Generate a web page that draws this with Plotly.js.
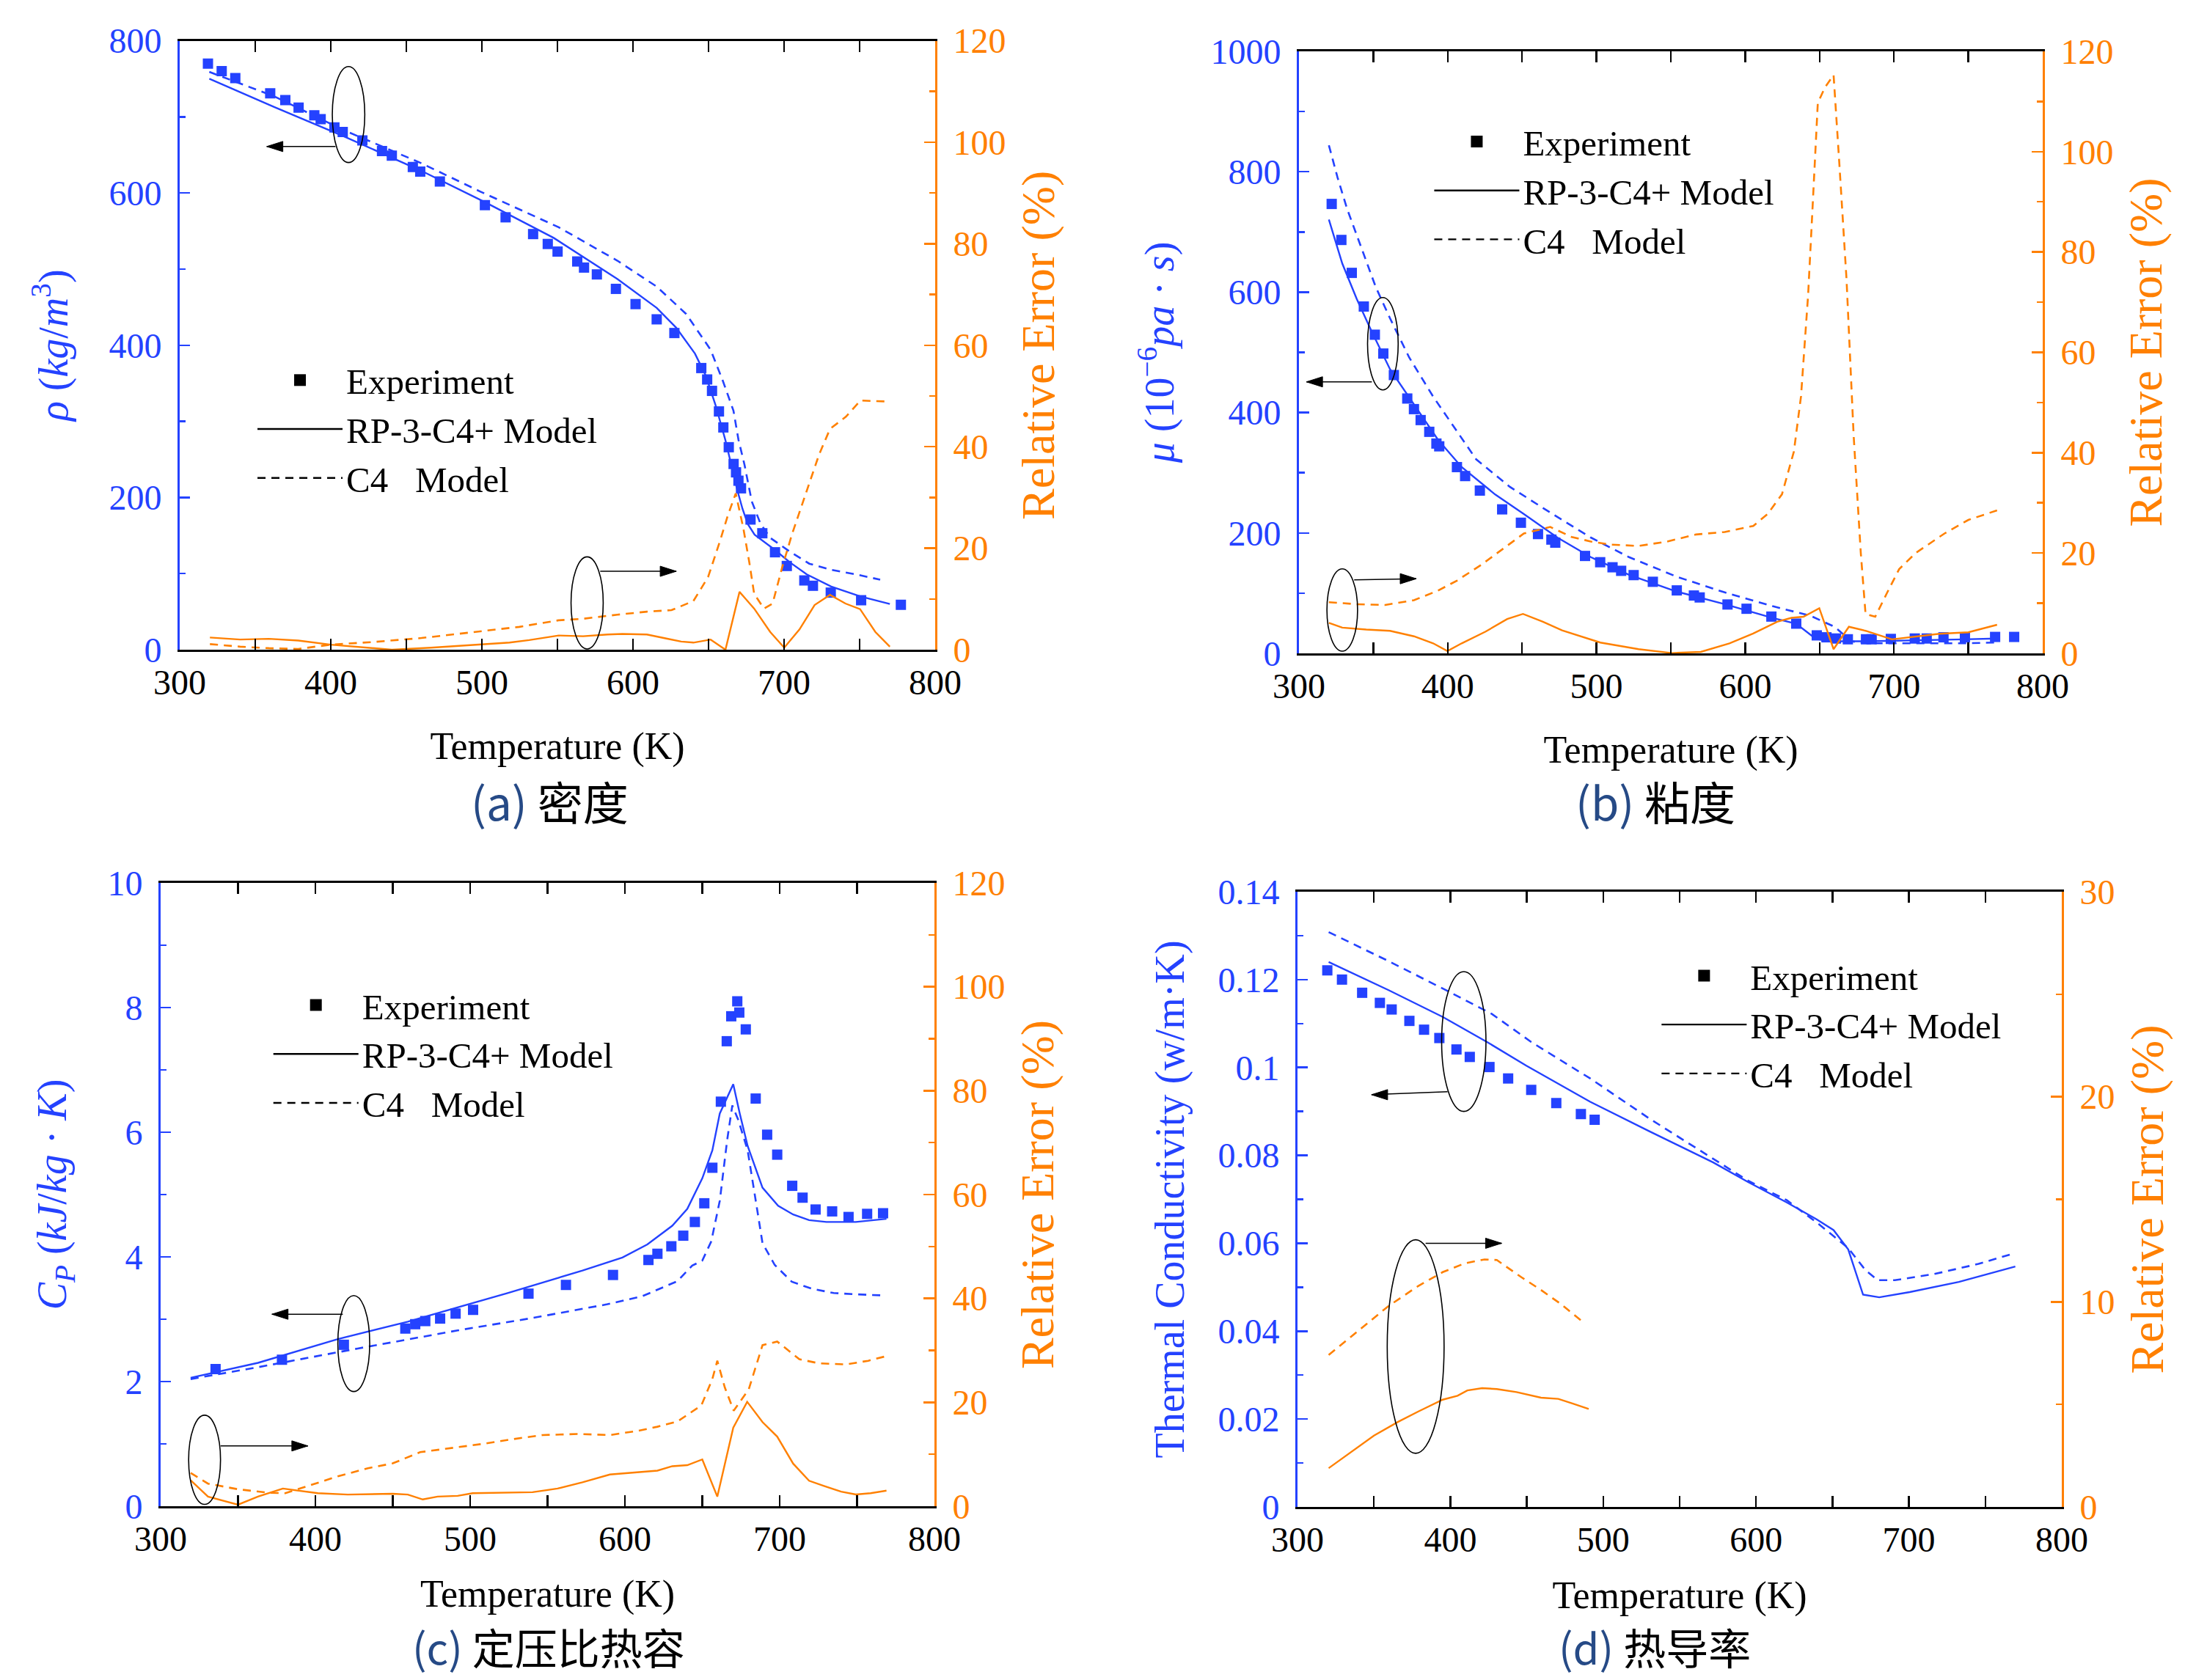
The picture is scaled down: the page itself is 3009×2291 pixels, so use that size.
<!DOCTYPE html>
<html>
<head>
<meta charset="utf-8">
<script src="https://cdn.plot.ly/plotly-3.0.1.min.js"></script>
<style>html,body{margin:0;padding:0;background:#fff;}#chart{width:3009px;height:2291px;}</style>
</head>
<body>
<div id="chart"></div>
<script>
// ---------- (a) density ----------
const Ta_exp = [318.7, 327.8, 336.8, 359.9, 369.9, 378.7, 389.1, 393.3, 402.4, 407.9, 420.9, 433.9, 440.4, 454.3, 459.2, 472.2, 502.0, 515.7, 533.9, 543.6, 550.1, 563.1, 567.6, 576.1, 588.7, 601.7, 615.7, 627.4, 645.2, 649.1, 652.3, 656.9, 659.8, 663.4, 666.6, 668.2, 669.8, 671.5, 677.8, 685.6, 694.0, 701.8, 713.4, 719.1, 730.9, 751.0, 777.3];
const rho_exp = [770, 760, 751, 731, 722, 712, 702, 697, 686, 680, 669, 655, 649, 634, 628, 615, 584, 568, 546, 533, 523, 510, 502, 493, 474, 454, 434, 416, 370, 355, 340, 313, 292, 266, 244, 233, 222, 212, 171, 153, 128, 110, 91, 84, 75, 65, 59];
const Ta_rp = [319.6, 362.5, 408, 460, 502, 547.5, 589.7, 615.7, 628.6, 641, 648.2, 654.7, 661.2, 665.5, 669, 672.5, 676, 680.5, 694, 703.7, 715, 731.2, 750.6, 770];
const rho_rp = [750, 713, 675, 629, 588, 541, 487, 449, 423, 389, 360, 321, 275, 240, 210, 185, 165, 151, 131, 115, 99, 83, 70, 60];
const Ta_c4 = [319.6, 362.5, 408, 460, 498.8, 550.8, 589.7, 615.7, 635.2, 651.4, 659.5, 666.5, 669.8, 673.8, 678.6, 684.3, 690.8, 703.7, 716.7, 731.2, 747.4, 763.6];
const rho_c4 = [759, 727, 683, 639, 602, 555, 511, 477, 441, 394, 353, 314, 276, 243, 195, 166, 147, 129, 113, 105, 99, 92];
const Ta_err_rp = [320, 340, 359, 378.5, 400, 427.4, 440.4, 466.3, 492.3, 518.3, 531.3, 550.8, 567, 583.2, 593, 609.2, 622.1, 631.9, 640, 651.4, 661.2, 670.5, 680.2, 690.8, 700.1, 710.2, 720.2, 730.4, 740.6, 750.3, 760.4, 770];
const err_a_rp = [2.4, 2.0, 2.15, 1.8, 1.0, 0.25, 0, 0.4, 0.9, 1.4, 1.9, 2.8, 2.65, 3.0, 3.1, 3.0, 2.2, 1.6, 1.4, 2.0, 0, 11.4, 8.1, 3.5, 0.4, 4.0, 8.8, 10.8, 9.1, 8.0, 3.5, 0.6];
const Ta_err_c4 = [320, 340, 359, 378.5, 400, 427.4, 460, 492.3, 524.8, 550.8, 567, 589.7, 609.2, 625.5, 640, 649.7, 657.9, 662.7, 668, 673, 677, 680.2, 686.7, 692.4, 698.8, 705.3, 715, 723.1, 730.4, 740.9, 750.6, 768.4];
const err_a_c4 = [1.1, 0.6, 0.3, 0.15, 1.0, 1.5, 2.3, 3.35, 4.5, 5.8, 6.1, 6.9, 7.5, 7.8, 9.6, 14.3, 21.7, 26.4, 30.8, 24, 17.2, 11, 8.1, 9.1, 16.3, 22.8, 31.2, 38.4, 43.5, 45.9, 49.1, 48.9];

// ---------- (b) viscosity ----------
const Tb_exp = [322.0, 328.5, 335.5, 343.6, 351.0, 356.7, 363.8, 372.8, 377.3, 381.8, 387.6, 392.4, 394.3, 406.2, 411.7, 421.6, 436.6, 449.2, 460.7, 469.7, 472.3, 492.3, 502.5, 510.8, 516.6, 525.0, 537.9, 554.0, 565.5, 569.4, 588.1, 600.9, 617.6, 634.3, 648.1, 654.6, 661.0, 669.0, 681.2, 685.0, 697.9, 714.0, 722.0, 733.3, 747.7, 768.0, 780.8];
const mu_exp = [746.5, 686.7, 632, 576.1, 529.3, 498, 462.3, 423.3, 405.7, 387.5, 368, 348.5, 343.9, 309.4, 294.5, 270.4, 239.2, 217, 198.2, 189, 183.9, 161.8, 151.4, 143, 137.1, 130, 118.9, 104.6, 96.1, 92.9, 81.2, 74.1, 61.1, 49.4, 29.9, 26.7, 24.7, 23.4, 23.4, 23.4, 24, 24.7, 24.7, 26.7, 26.7, 27.3, 27.3];
const Tb_rp = [320.1, 329.1, 338.8, 348.4, 361.2, 377.3, 393.4, 409.4, 431.9, 451.2, 473.7, 496.2, 521.9, 554, 586.2, 618.3, 634.3, 647.2, 656.8, 682.5, 714.6, 746.8, 768.6];
const mu_rp = [720.5, 647.6, 589, 537, 472, 413.5, 355, 309.4, 263.9, 231.4, 192.4, 159.8, 130.6, 102.6, 81.8, 59, 49.3, 24.6, 20, 20, 21.3, 23.3, 24.6];
const Tb_c4 = [320.1, 325.9, 332.3, 342, 351.6, 361.2, 374.1, 390.2, 406.2, 419.1, 441.6, 470.5, 496.2, 521.9, 554, 586.2, 618.3, 644, 660.1, 671.3, 682.5, 714.6, 746.8, 768.6];
const mu_c4 = [844, 790.7, 738.7, 673.6, 608.6, 556.6, 491.5, 426.5, 368, 322.4, 276.9, 231.4, 192.4, 159.8, 127.3, 101.3, 78.5, 62.3, 44.1, 20, 16.7, 16.7, 16.7, 18];
const Tb_err_rp = [320.1, 329.1, 345.2, 361.2, 377.3, 390.2, 399.8, 409.4, 425.5, 440, 450.6, 464, 476.9, 502.6, 528.3, 550.8, 570.1, 589.4, 605.4, 621.5, 631.1, 639.2, 649.8, 659.4, 669.7, 680.9, 698.6, 714.6, 730.7, 750, 769.3];
const err_b_rp = [6.07, 5.13, 4.74, 4.5, 3.4, 2.0, 0.45, 2.0, 4.35, 6.85, 7.86, 6.3, 4.6, 2.16, 0.84, 0.06, 0.3, 2.0, 3.96, 6.3, 7.08, 7.3, 9.0, 0.84, 5.3, 4.5, 2.8, 3.3, 3.9, 4.2, 5.7];
const Tb_err_c4 = [320.1, 338.8, 358, 377.3, 393.4, 406.2, 422.3, 438.4, 451.2, 468.9, 483.3, 496.2, 509, 528.3, 547.6, 566.9, 586.2, 605.4, 615.1, 624.7, 632.7, 637.5, 642.3, 645.5, 648.8, 653.6, 659.4, 663.2, 668.1, 672.9, 677.7, 680.9, 687.4, 695.4, 703.5, 714.6, 734, 750, 769.3];
const err_b_c4 = [10.2, 9.8, 9.65, 10.6, 12.5, 14.5, 17.6, 21.1, 23.9, 25.2, 23.2, 22.3, 21.7, 21.4, 22.3, 23.7, 24.2, 25.4, 27.8, 31.7, 40.2, 51.2, 71.5, 90.2, 109.7, 112.8, 115.3, 98, 74.6, 43.4, 20, 7.86, 7.3, 12.1, 16.8, 20, 23.9, 26.6, 28.5];

// ---------- (c) specific heat ----------
const Tc_exp = [335.5, 378.4, 418.4, 458.1, 464.5, 471.0, 480.6, 490.6, 501.9, 537.7, 561.9, 592.3, 615.2, 621.0, 630.0, 637.7, 645.2, 651.3, 656.5, 662.0, 665.8, 668.7, 672.6, 673.9, 678.1, 684.5, 691.9, 698.4, 708.1, 714.8, 723.2, 733.9, 744.5, 756.5, 766.8];
const cp_exp = [2.20, 2.35, 2.59, 2.85, 2.92, 2.97, 3.01, 3.09, 3.15, 3.41, 3.55, 3.71, 3.95, 4.05, 4.17, 4.34, 4.56, 4.86, 5.43, 6.49, 7.46, 7.86, 8.10, 7.92, 7.65, 6.54, 5.96, 5.64, 5.14, 4.95, 4.76, 4.73, 4.64, 4.69, 4.70];
const Tc_rp = [319.4, 362.9, 414.5, 459.7, 524.2, 572.6, 598.4, 614.5, 630.6, 640.3, 650, 656.5, 661.3, 670, 674.2, 679.3, 688.9, 699, 708.7, 719, 730.2, 749.2, 769];
const cp_rp = [2.06, 2.30, 2.68, 2.96, 3.42, 3.78, 3.99, 4.20, 4.50, 4.77, 5.26, 5.71, 6.30, 6.77, 6.30, 5.78, 5.11, 4.82, 4.68, 4.59, 4.56, 4.56, 4.61];
const Tc_c4 = [319.4, 362.9, 427.4, 491.9, 540.3, 588.7, 611.3, 633.9, 643.5, 650, 655.8, 661.3, 666.1, 669.4, 673.2, 679.3, 685.7, 688.9, 696.8, 707.9, 720.6, 734.9, 749.2, 768.3];
const cp_c4 = [2.04, 2.23, 2.53, 2.82, 3.02, 3.24, 3.37, 3.61, 3.86, 3.94, 4.25, 4.90, 5.88, 6.43, 6.20, 5.71, 4.72, 4.22, 3.87, 3.60, 3.49, 3.42, 3.40, 3.38];
const Tc_err_rp = [319.4, 330.6, 350, 362.9, 379, 401.6, 420.9, 450, 459.7, 469.4, 479, 491.9, 501.6, 524.2, 540.3, 556.5, 572.6, 590.3, 608.1, 621, 630.6, 640.3, 650, 659.7, 670, 679, 688.9, 698.4, 708.7, 719, 728.6, 739.7, 749.2, 758.8, 769];
const err_c_rp = [5.0, 1.85, 0.3, 1.85, 3.4, 2.5, 2.24, 2.4, 2.24, 1.3, 1.85, 2.0, 2.5, 2.63, 2.7, 3.4, 4.6, 6.1, 6.5, 6.85, 7.7, 7.9, 9.0, 1.85, 15.1, 20.1, 16.2, 13.4, 8.2, 4.9, 3.9, 2.8, 2.26, 2.5, 3.0];
const Tc_err_c4 = [319.4, 330.6, 350, 369.4, 380.6, 391.9, 414.5, 433.9, 450, 467.7, 488.7, 508.1, 527.4, 546.8, 569.4, 590.3, 608.1, 621, 633.9, 649.4, 656.5, 659.7, 664.5, 670.3, 680, 688.9, 698.4, 712.7, 725.4, 742.9, 757.2, 769];
const err_c_c4 = [6.4, 4.35, 3.26, 2.6, 2.5, 3.6, 5.75, 7.3, 8.25, 10.4, 11.2, 12.0, 12.9, 13.7, 13.9, 13.7, 14.5, 15.3, 16.3, 19.4, 24.5, 28.0, 22.9, 18.4, 22.5, 31.0, 31.7, 28.3, 27.5, 27.3, 28.0, 28.9];

// ---------- (d) thermal conductivity ----------
const Td_exp = [319.5, 329.1, 342.3, 353.9, 361.6, 373.2, 382.8, 392.8, 404.0, 412.7, 425.6, 437.8, 452.9, 469.3, 485.4, 494.4];
const k_exp = [0.1221, 0.1200, 0.1170, 0.1147, 0.1132, 0.1106, 0.1086, 0.1067, 0.1041, 0.1024, 0.1001, 0.0975, 0.0949, 0.0919, 0.0894, 0.0881];
const Td_rp = [320.4, 359.6, 395, 424, 449.7, 491.5, 530.1, 571.9, 594.4, 620.1, 639.4, 650.7, 660.3, 670, 680.6, 700.5, 732.7, 769.6];
const k_rp = [0.1240, 0.1176, 0.1115, 0.1058, 0.1004, 0.0922, 0.0855, 0.0784, 0.0740, 0.0693, 0.0655, 0.0630, 0.0586, 0.0483, 0.0477, 0.0489, 0.0512, 0.0547];
const Td_c4 = [320.4, 359.6, 398.2, 427.1, 452.9, 491.5, 530.1, 571.9, 594.4, 620.1, 639.4, 649, 660.3, 671.5, 679.6, 690.8, 716.6, 745.5, 769.6];
const k_c4 = [0.1308, 0.1242, 0.1174, 0.1122, 0.1058, 0.0975, 0.0884, 0.0793, 0.0743, 0.0698, 0.0648, 0.0621, 0.0589, 0.0539, 0.0516, 0.0516, 0.0530, 0.0553, 0.0578];
const Td_err_rp = [320.4, 337.1, 350, 366.1, 378.9, 395, 404.7, 411.1, 420.8, 430.4, 443.3, 459.3, 470.6, 480.2, 490.5];
const err_d_rp = [1.89, 2.8, 3.48, 4.16, 4.65, 5.23, 5.42, 5.68, 5.79, 5.75, 5.6, 5.33, 5.27, 5.04, 4.78];
const Td_err_c4 = [320.4, 340.4, 359.6, 378.9, 395, 409.5, 422.4, 430.4, 446.5, 459.3, 472.2, 485.7];
const err_d_c4 = [7.41, 8.63, 9.8, 10.77, 11.45, 11.88, 12.07, 12.04, 11.2, 10.58, 9.9, 9.08];

// ---------- labels ----------
const legendNames = ['Experiment', 'RP-3-C4+ Model', 'C4\u00a0\u00a0\u00a0Model'];
const captions = ['(a)', '(b)', '(c)', '(d)'];
const captionCN = ['密度', '粘度', '定压比热容', '热导率'];
const xTitle = 'Temperature (K)';
const leftTitles = [
  '<i>ρ</i> (<i>kg</i>/<i>m</i><sup>3</sup>)',
  '<i>μ</i> (10<sup>−6</sup><i>pa</i> · <i>s</i>)',
  '<i>C<sub>P</sub></i> (<i>kJ</i>/<i>kg</i> · <i>K</i>)',
  'Thermal Conductivity (w/m·K)'
];
const rightTitle = 'Relative Error (%)';

// ---------- styling ----------
const BLUE = '#2442ff';
const ORANGE = '#ff8000';
const SERIF = 'Liberation Serif, Times New Roman, serif';

const traces = [];
function lineTr(x, y, xa, ya, color, dashed) {
  traces.push({type: 'scatter', mode: 'lines', x: x, y: y, xaxis: xa, yaxis: ya, showlegend: false,
    line: {color: color, width: dashed ? 2.6 : 2.4, dash: dashed ? '11px,8px' : 'solid'}, hoverinfo: 'skip'});
}
function expTr(x, y, xa, ya) {
  traces.push({type: 'scatter', mode: 'markers', x: x, y: y, xaxis: xa, yaxis: ya, showlegend: false,
    marker: {symbol: 'square', size: 14, color: BLUE}, hoverinfo: 'skip'});
}
const panels = [
  {xa: 'x', yl: 'y', yr: 'y2', e: [Ta_exp, rho_exp], rp: [Ta_rp, rho_rp], c4: [Ta_c4, rho_c4], er: [Ta_err_rp, err_a_rp], ec: [Ta_err_c4, err_a_c4]},
  {xa: 'x2', yl: 'y3', yr: 'y4', e: [Tb_exp, mu_exp], rp: [Tb_rp, mu_rp], c4: [Tb_c4, mu_c4], er: [Tb_err_rp, err_b_rp], ec: [Tb_err_c4, err_b_c4]},
  {xa: 'x3', yl: 'y5', yr: 'y6', e: [Tc_exp, cp_exp], rp: [Tc_rp, cp_rp], c4: [Tc_c4, cp_c4], er: [Tc_err_rp, err_c_rp], ec: [Tc_err_c4, err_c_c4]},
  {xa: 'x4', yl: 'y7', yr: 'y8', e: [Td_exp, k_exp], rp: [Td_rp, k_rp], c4: [Td_c4, k_c4], er: [Td_err_rp, err_d_rp], ec: [Td_err_c4, err_d_c4]}
];
panels.forEach(p => {
  lineTr(p.er[0], p.er[1], p.xa, p.yr, ORANGE, false);
  lineTr(p.ec[0], p.ec[1], p.xa, p.yr, ORANGE, true);
  lineTr(p.rp[0], p.rp[1], p.xa, p.yl, BLUE, false);
  lineTr(p.c4[0], p.c4[1], p.xa, p.yl, BLUE, true);
  expTr(p.e[0], p.e[1], p.xa, p.yl);
});
// legend entries (black symbols)
['legend', 'legend2', 'legend3', 'legend4'].forEach((lg, i) => {
  const xa = panels[i].xa, ya = panels[i].yl;
  traces.push({type: 'scatter', mode: 'markers', x: [null], y: [null], xaxis: xa, yaxis: ya, name: legendNames[0], legend: lg,
    marker: {symbol: 'square', size: 16, color: '#000'}});
  traces.push({type: 'scatter', mode: 'lines', x: [null], y: [null], xaxis: xa, yaxis: ya, name: legendNames[1], legend: lg,
    line: {color: '#000', width: 2.4}});
  traces.push({type: 'scatter', mode: 'lines', x: [null], y: [null], xaxis: xa, yaxis: ya, name: legendNames[2], legend: lg,
    line: {color: '#000', width: 2.4, dash: '11px,8px'}});
});

function xAxis(domain, anchor, standoff) {
  return {domain: domain, anchor: anchor, range: [300, 800], tick0: 300, dtick: 100,
    ticks: 'inside', ticklen: 15, tickwidth: 2.5, tickcolor: '#000',
    minor: {dtick: 50, ticks: 'inside', ticklen: 8, tickwidth: 2.5, tickcolor: '#000'},
    showline: true, linecolor: '#000', linewidth: 3, mirror: 'allticks',
    showgrid: false, zeroline: false, ticklabelstandoff: 0,
    tickfont: {family: SERIF, size: 48, color: '#000'},
    title: {text: xTitle, font: {family: SERIF, size: 52, color: '#000'}, standoff: standoff}};
}
function yLeft(domain, anchor, range, dtick, mdtick, title, tsize, standoff) {
  return {domain: domain, anchor: anchor, range: range, dtick: dtick, tick0: 0,
    ticks: 'inside', ticklen: 14, tickwidth: 2.5, tickcolor: BLUE,
    minor: {dtick: mdtick, ticks: 'inside', ticklen: 8, tickwidth: 2.5, tickcolor: BLUE},
    showline: true, linecolor: BLUE, linewidth: 3,
    showgrid: false, zeroline: false, ticklabelstandoff: 12,
    tickfont: {family: SERIF, size: 48, color: BLUE},
    title: {text: title, font: {family: SERIF, size: tsize, color: BLUE}, standoff: standoff}};
}
function yRight(over, anchor, range, dtick, mdtick) {
  return {overlaying: over, anchor: anchor, side: 'right', range: range, dtick: dtick, tick0: 0,
    ticks: 'inside', ticklen: 15, tickwidth: 2.5, tickcolor: ORANGE,
    minor: {dtick: mdtick, ticks: 'inside', ticklen: 8, tickwidth: 2.5, tickcolor: ORANGE},
    showline: true, linecolor: ORANGE, linewidth: 3,
    showgrid: false, zeroline: false, ticklabelstandoff: 12,
    tickfont: {family: SERIF, size: 48, color: ORANGE},
    title: {text: rightTitle, font: {family: SERIF, size: 64, color: ORANGE}, standoff: 22}};
}

function ell(xa, ya, x0, x1, y0, y1) {
  return {type: 'circle', xref: xa, yref: ya, x0: x0, x1: x1, y0: y0, y1: y1, line: {color: '#000', width: 1.6}};
}
const shapes = [
  ell('x', 'y', 401, 422.5, 640, 766),
  ell('x', 'y', 559, 580.3, 1, 122),
  ell('x2', 'y3', 346.1, 366.7, 437.6, 591),
  ell('x2', 'y3', 318.8, 339.4, 3.7, 140.3),
  ell('x3', 'y5', 414.5, 435.1, 1.84, 3.38),
  ell('x3', 'y5', 318.1, 338.7, 0.03, 1.46),
  ell('x4', 'y7', 394.3, 423.3, 0.0900, 0.1218),
  ell('x4', 'y7', 358.7, 395.9, 0.0122, 0.0608)
];
// arrows: shaft (line) + filled head (pixel-sized path anchored at the tip)
function arrow(xa, ya, tx, ty, hx, hy) {
  const dir = hx < tx ? 1 : -1;
  shapes.push({type: 'line', xref: xa, yref: ya, x0: tx, y0: ty, x1: hx, y1: hy, line: {color: '#000', width: 1.5}});
  shapes.push({type: 'path', xref: xa, yref: ya, xsizemode: 'pixel', ysizemode: 'pixel', xanchor: hx, yanchor: hy,
    path: 'M0,0 L' + (22 * dir) + ',7 L' + (22 * dir) + ',-7 Z', fillcolor: '#000', line: {color: '#000', width: 1}});
}
arrow('x', 'y', 403.1, 661, 357.6, 661);
arrow('x', 'y', 578.3, 103, 628.7, 103);
arrow('x2', 'y3', 349, 451, 305, 451);
arrow('x2', 'y3', 337.1, 122, 378.9, 124);
arrow('x3', 'y5', 417.7, 3.08, 371.9, 3.08);
arrow('x3', 'y5', 338.7, 0.967, 395.2, 0.967);
arrow('x4', 'y7', 398.2, 0.0945, 348.4, 0.0938);
arrow('x4', 'y7', 383.8, 0.0600, 433.6, 0.0600);

const annotations = [];
const capPos = [[749 / 3009, 1 - 1092 / 2291, 'middle'], [2257 / 3009, 1 - 1092 / 2291, 'middle'],
                [748 / 3009, 2 / 2291, 'bottom'], [2256 / 3009, 2 / 2291, 'bottom']];
captions.forEach((c, i) => {
  annotations.push({xref: 'paper', yref: 'paper', x: capPos[i][0], y: capPos[i][1], xanchor: 'center', yanchor: capPos[i][2],
    showarrow: false, text: '<span style="color:#264a86">' + c + '</span> ' + captionCN[i],
    font: {family: 'Noto Sans CJK SC, Noto Sans, sans-serif', size: i < 2 ? 62 : 58, color: '#000'}});
});

function legendBox(x, y) {
  return {x: x, y: y, xanchor: 'left', yanchor: 'top', bgcolor: 'rgba(0,0,0,0)', borderwidth: 0,
    font: {family: SERIF, size: 49, color: '#000'}, itemwidth: 116, tracegroupgap: 0, itemclick: false};
}

const layout = {
  width: 3009, height: 2291, margin: {l: 0, r: 0, t: 0, b: 0},
  paper_bgcolor: '#fff', plot_bgcolor: 'rgba(0,0,0,0)', showlegend: true,
  xaxis: xAxis([0.08142, 0.42373], 'y', 44),
  yaxis: yLeft([0.61327, 0.97577], 'x', [0, 800], 200, 100, leftTitles[0], 56, 38),
  yaxis2: yRight('y', 'x', [0, 120], 20, 10),
  xaxis2: xAxis([0.58857, 0.92556], 'y3', 44),
  yaxis3: yLeft([0.61109, 0.96945], 'x2', [0, 1000], 200, 100, leftTitles[1], 56, 32),
  yaxis4: yRight('y3', 'x2', [0, 120], 20, 10),
  xaxis3: xAxis([0.07278, 0.42340], 'y5', 32),
  yaxis5: yLeft([0.10345, 0.47447], 'x3', [0, 10], 2, 1, leftTitles[2], 56, 38),
  yaxis6: yRight('y5', 'x3', [0, 120], 20, 10),
  xaxis4: xAxis([0.58790, 0.93420], 'y7', 32),
  yaxis7: yLeft([0.10301, 0.46923], 'x4', [0, 0.14], 0.02, 0.01, leftTitles[3], 56, 28),
  yaxis8: yRight('y7', 'x4', [0, 30], 10, 5),
  legend: legendBox(0.1150, 0.7905),
  legend2: legendBox(0.6482, 0.9325),
  legend3: legendBox(0.1222, 0.4185),
  legend4: legendBox(0.7512, 0.4360),
  shapes: shapes,
  annotations: annotations
};
Plotly.newPlot('chart', traces, layout, {staticPlot: true, displayModeBar: false});
</script>
</body>
</html>
